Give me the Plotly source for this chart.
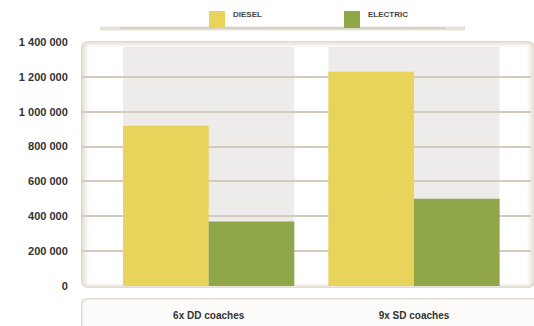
import plotly.graph_objects as go

categories = ["6x DD coaches", "9x SD coaches"]
series_names = ["DIESEL", "ELECTRIC"]
diesel = [920000, 1230000]
electric = [370000, 500000]
y_tickvals = [0, 200000, 400000, 600000, 800000, 1000000, 1200000, 1400000]

colors = {"DIESEL": "#e8d45a", "ELECTRIC": "#8fa64a"}

W, H = 534, 326
L, R, T, B = 81, 3, 42, 40
PW, PH = W - L - R, H - T - B
BARGAP = 0.166


def px(x):
    return (x - L) / PW


def py(y):
    return (H - B - y) / PH


def rrect(x0, y0, x1, y1, r):
    # rounded rectangle path in pixel coords -> paper coords
    X = lambda v: f"{px(v):.5f}"
    Y = lambda v: f"{py(v):.5f}"
    return (f"M {X(x0 + r)} {Y(y0)} L {X(x1 - r)} {Y(y0)} "
            f"Q {X(x1)} {Y(y0)} {X(x1)} {Y(y0 + r)} L {X(x1)} {Y(y1 - r)} "
            f"Q {X(x1)} {Y(y1)} {X(x1 - r)} {Y(y1)} L {X(x0 + r)} {Y(y1)} "
            f"Q {X(x0)} {Y(y1)} {X(x0)} {Y(y1 - r)} L {X(x0)} {Y(y0 + r)} "
            f"Q {X(x0)} {Y(y0)} {X(x0 + r)} {Y(y0)} Z")


fig = go.Figure()
fig.add_trace(go.Bar(name=series_names[0], x=categories, y=diesel,
                     marker=dict(color=colors["DIESEL"], line=dict(width=0))))
fig.add_trace(go.Bar(name=series_names[1], x=categories, y=electric,
                     marker=dict(color=colors["ELECTRIC"], line=dict(width=0))))

shapes = []
# plot area with inner beige shading
steps = 9
c0 = (224, 215, 200)
for i in range(steps):
    t = i / (steps - 1)
    c = tuple(int(c0[k] + (255 - c0[k]) * t ** 0.7) for k in range(3))
    shapes.append(dict(type="path", xref="paper", yref="paper", layer="below",
                       path=rrect(L + i, T - 1 + i * 0.8, W - R + 4 - i, H - B + 2 - i * 0.6, max(8 - i, 2)),
                       fillcolor=f"rgb{c}", line=dict(width=0)))
# grey category bands
gw = 1 - BARGAP
for i, _ in enumerate(categories):
    shapes.append(dict(type="rect", xref="x", yref="paper", layer="below",
                       x0=i - gw / 2, x1=i + gw / 2, y0=py(H - B - 1), y1=py(T + 5),
                       fillcolor="rgba(226,224,220,0.6)", line=dict(width=0)))
# x-label box
for i, c in enumerate([(226, 219, 208), (240, 236, 229), (252, 251, 249)]):
    shapes.append(dict(type="path", xref="paper", yref="paper", layer="below",
                       path=rrect(L + i, 298 + i, W + 8, H + 10, 6),
                       fillcolor=f"rgb{c}", line=dict(width=0)))
# legend base line
shapes.append(dict(type="line", xref="paper", yref="paper", x0=px(100), x1=px(465), y0=py(28.5), y1=py(28.5),
                   line=dict(color="rgba(215,207,194,0.6)", width=4)))
shapes.append(dict(type="line", xref="paper", yref="paper", x0=px(120), x1=px(445), y0=py(28), y1=py(28),
                   line=dict(color="#d3cabc", width=1.5)))
# legend swatches
legend_pos = [(209, 231), (344, 366)]
annotations = []
for name, (sx, tx) in zip(series_names, legend_pos):
    shapes.append(dict(type="rect", xref="paper", yref="paper", x0=px(sx), x1=px(sx + 16),
                       y0=py(28), y1=py(11), fillcolor=colors[name], line=dict(width=0)))
    annotations.append(dict(text=name, xref="paper", yref="paper", x=px(tx), y=py(14),
                            xanchor="left", yanchor="middle", showarrow=False,
                            font=dict(family="Liberation Sans", size=8, color="#444444", weight="bold")))

fig.update_layout(
    width=W, height=H,
    margin=dict(l=L, r=R, t=T, b=B, autoexpand=False),
    paper_bgcolor="white", plot_bgcolor="rgba(0,0,0,0)",
    barmode="group", bargap=BARGAP, bargroupgap=0,
    showlegend=False,
    separators=". ",
    shapes=shapes, annotations=annotations,
    font=dict(family="Liberation Sans", size=11, color="#333333"),
    xaxis=dict(range=[-0.622, 1.57], showgrid=False, zeroline=False, showline=False,
               automargin=False,
               ticks="outside", ticklen=20, tickcolor="rgba(0,0,0,0)",
               tickfont=dict(size=10, color="#333333", weight="bold")),
    yaxis=dict(range=[0, 1400000], tickvals=y_tickvals, tickformat=",d",
               automargin=False,
               showgrid=True, gridcolor="#d4cbbd", gridwidth=2, zeroline=False,
               showline=False, ticks="outside", ticklen=10, tickcolor="rgba(0,0,0,0)",
               tickfont=dict(size=11, color="#333333", weight="bold")),
)

fig.write_html("out.html", config={"displayModeBar": False},
               post_script="document.body.style.margin='0';document.body.style.overflow='hidden';")
